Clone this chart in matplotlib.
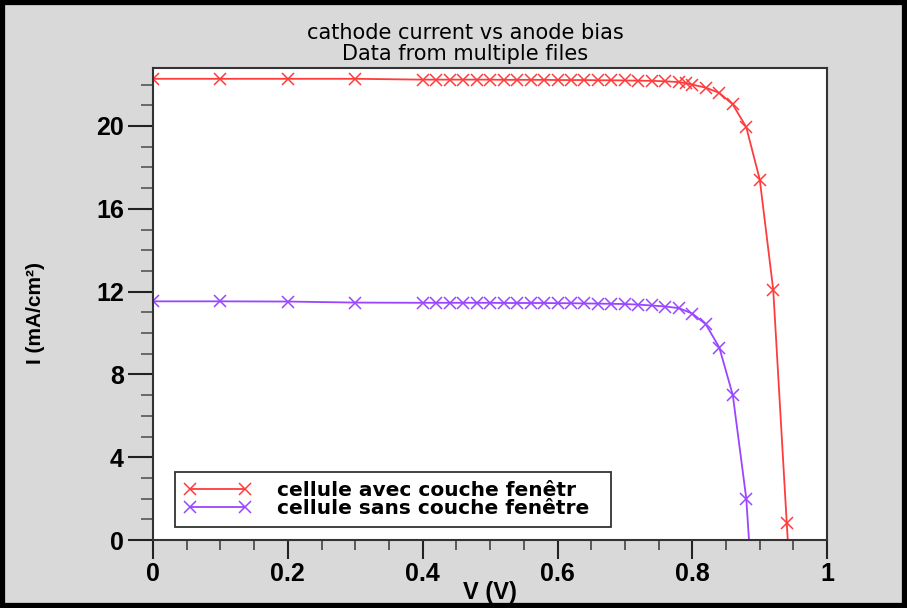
import matplotlib.pyplot as plt
import numpy as np
from matplotlib.patches import Rectangle
from matplotlib.ticker import MultipleLocator

plt.rcParams.update({'font.family': 'Liberation Sans'})

# cell with window layer
v_avec = [0, 0.1, 0.2, 0.3, 0.4, 0.42, 0.44, 0.46, 0.48, 0.5, 0.52, 0.54, 0.56, 0.58,
          0.6, 0.62, 0.64, 0.66, 0.68, 0.7, 0.72, 0.74, 0.76, 0.78, 0.79, 0.8,
          0.82, 0.84, 0.86, 0.88, 0.9, 0.92, 0.94, 0.96]
i_avec = [22.28, 22.28, 22.28, 22.28, 22.24, 22.24, 22.24, 22.24, 22.24, 22.24, 22.23, 22.23,
          22.23, 22.23, 22.22, 22.22, 22.22, 22.21, 22.21, 22.2, 22.19, 22.18, 22.16, 22.12,
          22.07, 22.0, 21.85, 21.6, 21.04, 19.94, 17.41, 12.08, 0.83, -10.0]
# cell without window layer
v_sans = [0, 0.1, 0.2, 0.3, 0.4, 0.42, 0.44, 0.46, 0.48, 0.5, 0.52, 0.54, 0.56, 0.58,
          0.6, 0.62, 0.64, 0.66, 0.68, 0.7, 0.72, 0.74, 0.76, 0.78, 0.8, 0.82,
          0.84, 0.86, 0.88, 0.9]
i_sans = [11.53, 11.53, 11.52, 11.47, 11.46, 11.46, 11.46, 11.46, 11.46, 11.46, 11.45, 11.45,
          11.45, 11.45, 11.44, 11.44, 11.43, 11.42, 11.41, 11.4, 11.37, 11.33, 11.28, 11.2,
          10.94, 10.42, 9.3, 7.0, 2.0, -8.0]
labels = ['cellule avec couche fenêtr', 'cellule sans couche fenêtre']
cols = ['#ff3c3c', '#9a45ff']

fig = plt.figure(figsize=(9.07, 6.08), dpi=100)
fig.patch.set_facecolor('#d9d9d9')
fig.patches.append(Rectangle((0.002, 0.003), 0.996, 0.994, transform=fig.transFigure,
                             fill=False, edgecolor='black', linewidth=4.5))
ax = fig.add_axes([0.1687, 0.1118, 0.7433, 0.7763])

ax.plot(v_avec, i_avec, color=cols[0], marker='x', markersize=9, mew=1.1, lw=1.3, label=labels[0])
ax.plot(v_sans, i_sans, color=cols[1], marker='x', markersize=9, mew=1.1, lw=1.3, label=labels[1])

ax.set_xlim(0, 1)
ax.set_ylim(0, 22.8)
ax.set_xticks([0, 0.2, 0.4, 0.6, 0.8, 1])
ax.set_xticklabels(['0', '0.2', '0.4', '0.6', '0.8', '1'])
ax.set_yticks([0, 4, 8, 12, 16, 20])
ax.xaxis.set_minor_locator(MultipleLocator(0.05))
ax.yaxis.set_minor_locator(MultipleLocator(1))
ax.tick_params(axis='x', which='major', direction='out', length=14, width=1.5, pad=2,
               labelsize=18, colors='#222222')
ax.tick_params(axis='x', which='minor', direction='out', length=7, width=1.2, colors='#444444')
ax.tick_params(axis='y', which='major', direction='out', length=18, width=1.5, pad=3,
               labelsize=18, colors='#222222')
ax.tick_params(axis='y', which='minor', direction='out', length=9, width=1.2, colors='#555555')
for t in ax.get_xticklabels() + ax.get_yticklabels():
    t.set_fontweight('bold')
    t.set_color('black')
for s in ax.spines.values():
    s.set_color('#333333')
    s.set_linewidth(1.5)

ax.set_xlabel('V (V)', fontsize=17, fontweight='bold', va='center')
ax.xaxis.set_label_coords(0.5, -0.111)
ax.set_ylabel('I (mA/cm²)', fontsize=15, fontweight='bold', va='center')
ax.yaxis.set_label_coords(-0.175, 0.48)

fig.text(0.513, 0.946, 'cathode current vs anode bias', ha='center', va='center',
         fontsize=15, family='DejaVu Sans')
fig.text(0.513, 0.911, 'Data from multiple files', ha='center', va='center',
         fontsize=15, family='DejaVu Sans')

leg = ax.legend(loc='lower left', bbox_to_anchor=(0.033, 0.027, 0.647, 0.11), mode='expand',
                prop={'weight': 'bold', 'size': 14.5, 'family': 'DejaVu Sans'}, numpoints=2,
                handlelength=3.3, handletextpad=1.3, labelspacing=-0.05, borderpad=0.45,
                fancybox=False, framealpha=1, edgecolor='#333333', borderaxespad=0)
leg.get_frame().set_linewidth(1.3)

fig.savefig('out.png', dpi=100, facecolor=fig.get_facecolor())
